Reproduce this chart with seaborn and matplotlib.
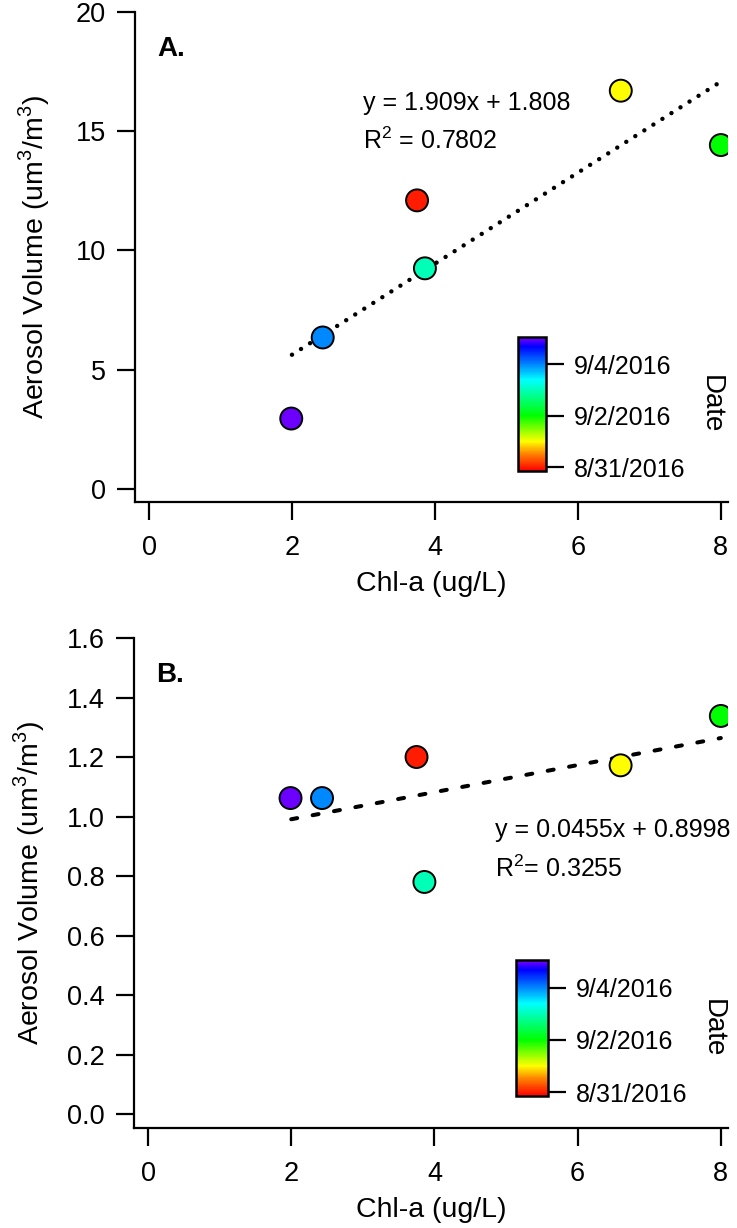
import pandas as pd
import seaborn as sns
import matplotlib
matplotlib.use('Agg')
from matplotlib import pyplot as plt
from matplotlib.colors import LinearSegmentedColormap, Normalize
from matplotlib.cm import ScalarMappable

# sampling dates (one per point) and values
dates = ['8/31/2016', '9/1/2016', '9/2/2016', '9/3/2016', '9/4/2016', '9/5/2016']
chl = [3.75, 6.60, 8.00, 3.86, 2.43, 1.99]          # Chl-a, ug/L
vol_a = [12.1, 16.7, 14.42, 9.25, 6.35, 2.95]        # panel A volume
vol_b = [1.200, 1.172, 1.338, 0.780, 1.062, 1.062]   # panel B volume

fit_a = (1.909, 1.808)
fit_b = (0.0455, 0.8998)
r2_a = 0.7802
r2_b = 0.3255
fit_x = [2, 8]

cbar_ticks = ['8/31/2016', '9/2/2016', '9/4/2016']

sns.set_style('ticks')
plt.rcParams['font.family'] = ['Liberation Sans', 'DejaVu Sans']
plt.rcParams['mathtext.fontset'] = 'custom'
plt.rcParams['mathtext.rm'] = 'Liberation Sans'
for k in ['text.color', 'axes.labelcolor', 'xtick.color', 'ytick.color', 'axes.edgecolor']:
    plt.rcParams[k] = 'black'

day0 = pd.to_datetime(dates[0])
days = [(pd.to_datetime(d) - day0).days for d in dates]
tick_days = [(pd.to_datetime(d) - day0).days for d in cbar_ticks]

# igor-like rainbow: red -> yellow -> green -> cyan -> blue -> purple
vmin, vmax = -0.15, 5.07
nodes = [(-0.15, '#ff0000'), (0.5, '#ff8000'), (1.0, '#ffff00'), (2.0, '#00ff00'),
         (3.4, '#00ffff'), (4.7, '#0000ff'), (5.07, '#8000ff')]
cmap = LinearSegmentedColormap.from_list(
    'igor_rainbow', [((v - vmin) / (vmax - vmin), c) for v, c in nodes])
norm = Normalize(vmin, vmax)
palette = {d: cmap(norm(v)) for d, v in zip(dates, days)}

W, H = 737, 1228
fig = plt.figure(figsize=(W / 100, H / 100), dpi=100)
FS = 18      # annotations, colorbar ticks
TFS = 19.5   # axis tick labels
LFS = 20.5   # axis labels


def frac(left, top, right, bottom):
    return [left / W, 1 - bottom / H, (right - left) / W, (bottom - top) / H]


def panel(box, vol, fit, r2, ylim, yticks, yfmt, ls, ypad, letter, letter_xy, eq_xy, eq_dy, r2_fmt, cbox):
    ax = fig.add_axes(frac(*box))
    df = pd.DataFrame({'chl': chl, 'vol': vol, 'date': dates})
    fx = pd.Series(fit_x, dtype=float)
    fy = fit[0] * fx + fit[1]
    ax.plot(fx, fy, color='black', **ls, zorder=2)
    sns.scatterplot(data=df, x='chl', y='vol', hue='date', palette=palette, s=250,
                    edgecolor='black', linewidth=1.4, legend=False, zorder=3, ax=ax)
    ax.set_xlim(-0.196, 8.1)
    ax.set_ylim(*ylim)
    ax.set_xticks([0, 2, 4, 6, 8])
    ax.set_yticks(yticks)
    ax.set_yticklabels([yfmt.format(v) for v in yticks])
    ax.set_xlabel('Chl-a (ug/L)', fontsize=LFS, labelpad=7)
    ax.set_ylabel('Aerosol Volume (um$^3$/m$^3$)', fontsize=LFS, labelpad=ypad)
    sns.despine(ax=ax)
    for s in ['left', 'bottom']:
        ax.spines[s].set_linewidth(1.6)
    ax.tick_params(length=13, width=1.6, labelsize=TFS, direction='out')
    ax.tick_params(axis='x', pad=11)
    ax.tick_params(axis='y', pad=8)
    ax.text(*letter_xy, letter, fontsize=20, fontweight='bold', va='center')
    ax.text(eq_xy[0], eq_xy[1], f'y = {fit[0]}x + {fit[1]}', fontsize=FS, va='center')
    ax.text(eq_xy[0], eq_xy[1] - eq_dy, r2_fmt.format(r2), fontsize=FS, va='center')

    cax = fig.add_axes(frac(*cbox))
    cb = fig.colorbar(ScalarMappable(norm=norm, cmap=cmap), cax=cax)
    cb.set_ticks(tick_days)
    cb.set_ticklabels(cbar_ticks)
    cb.outline.set_linewidth(1.8)
    cax.tick_params(length=13, width=1.6, labelsize=FS, pad=7)
    cb.set_label('Date', rotation=270, fontsize=20, labelpad=28)
    return ax


panel((135, 12, 728, 502), vol_a, fit_a, r2_a, (-0.55, 20), [0, 5, 10, 15, 20], '{:g}',
      dict(linestyle=(0, (0.01, 2.4)), linewidth=3.2, dash_capstyle='round'), 17,
      'A.', (0.12, 18.45), (2.99, 16.2), 1.6, 'R$^2$ = {}',
      (518, 337, 546, 471))

panel((134, 638, 728, 1128), vol_b, fit_b, r2_b, (-0.047, 1.6),
      [0.0, 0.2, 0.4, 0.6, 0.8, 1.0, 1.2, 1.4, 1.6], '{:.1f}',
      dict(linestyle=(0, (1.5, 3.9)), linewidth=2.9, dash_capstyle='round'), 14,
      'B.', (0.11, 1.476), (4.85, 0.955), 0.131, 'R$^2$= {}',
      (516, 960, 548, 1096))

fig.savefig('out.png', dpi=100)
